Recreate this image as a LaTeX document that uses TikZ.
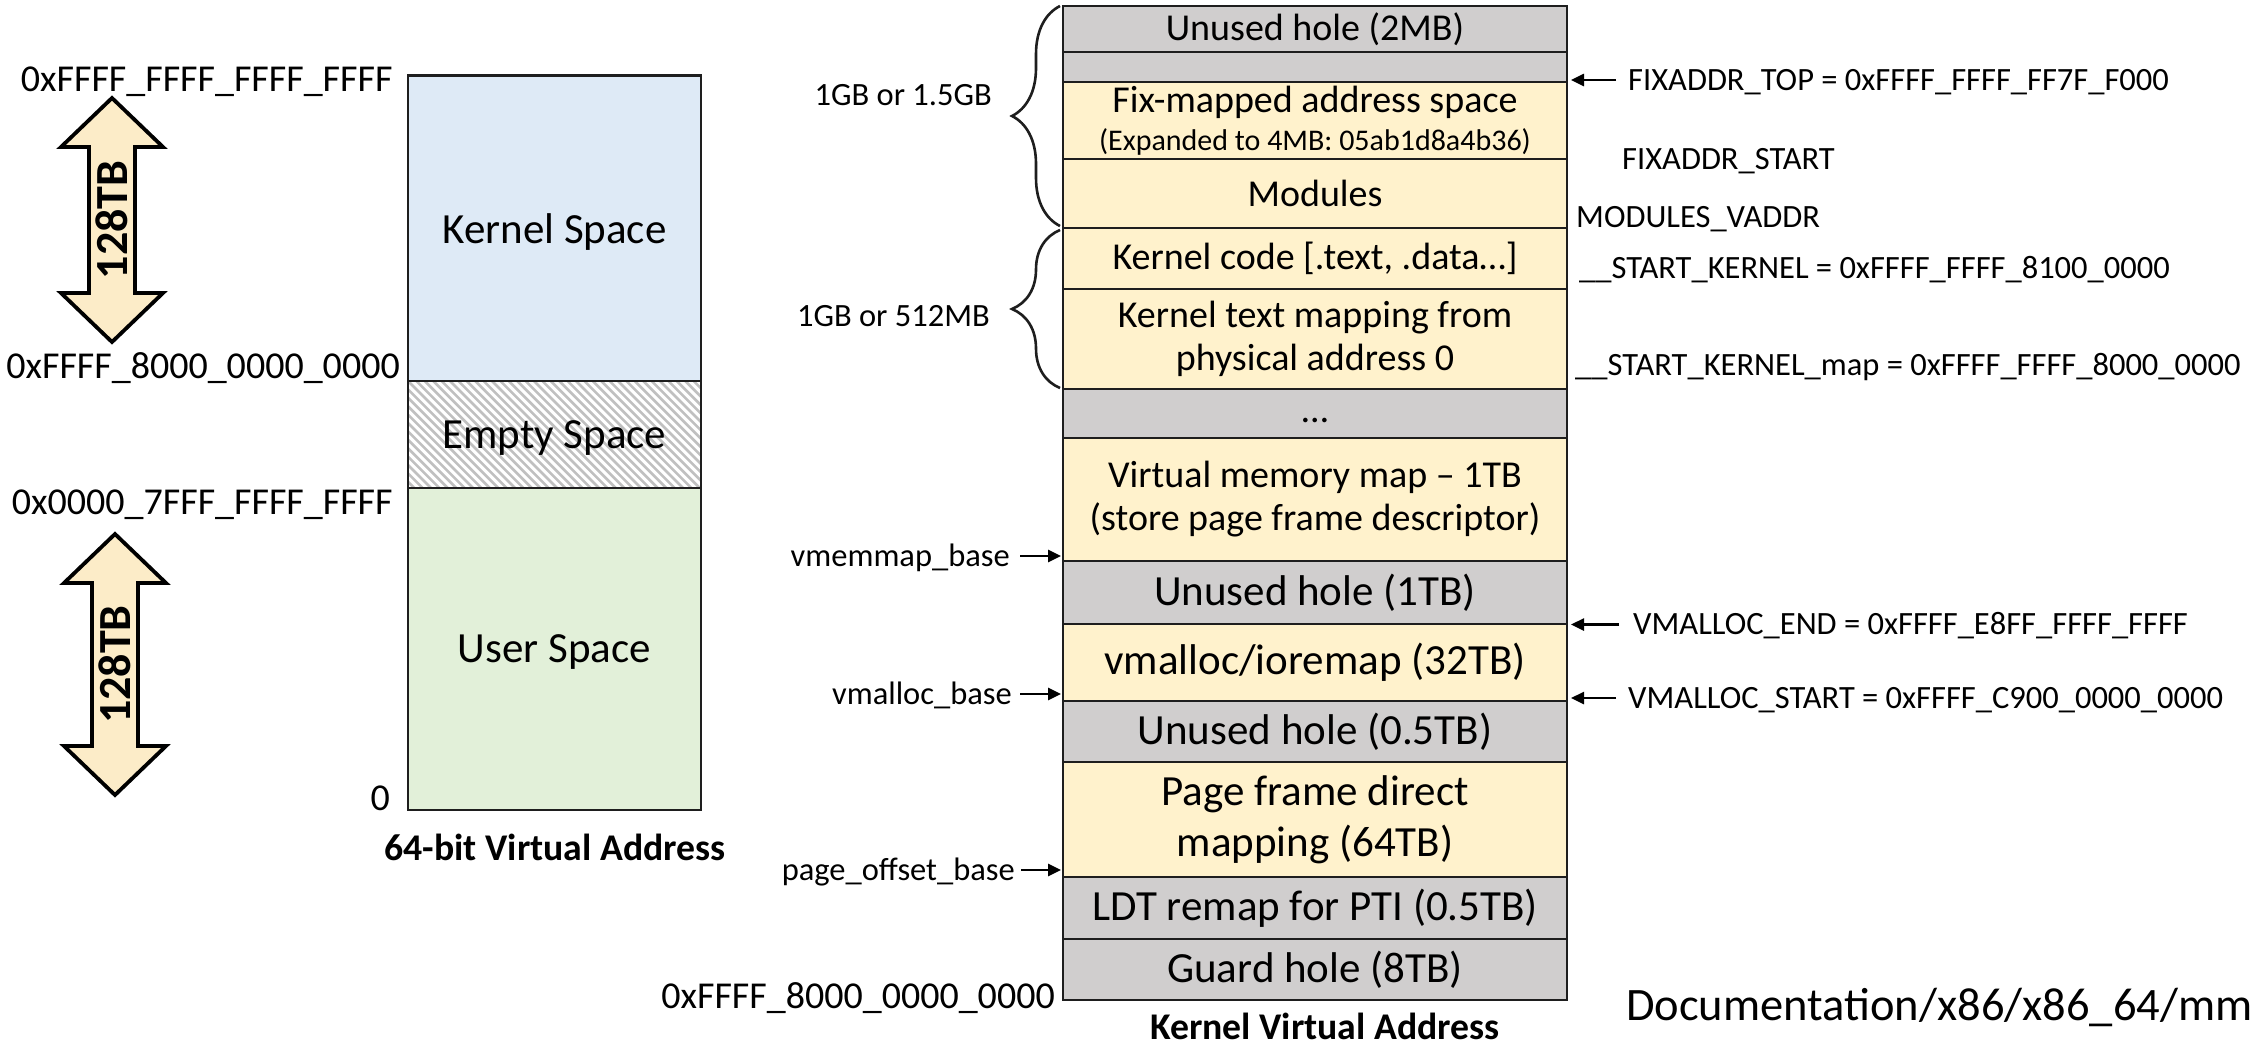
\documentclass[tikz,border=0pt]{standalone}
\usepackage{fontspec}
\setmainfont{Carlito}
\usetikzlibrary{arrows.meta,decorations.pathreplacing}

\definecolor{holegray}{RGB}{208,206,206}
\definecolor{mapyellow}{RGB}{255,242,204}
\definecolor{kernblue}{RGB}{222,234,246}
\definecolor{usergreen}{RGB}{226,240,217}
\definecolor{arrowtan}{RGB}{252,236,200}
\definecolor{edge}{RGB}{30,30,30}
\definecolor{hatchgray}{RGB}{192,192,192}

\begin{document}
\begin{tikzpicture}[x=1pt,y=-1pt,
  region/.style={draw=edge, line width=2.8pt, inner sep=0pt, align=center, text=black},
  rcol/.style={region, minimum width=504pt},
  lcol/.style={region, minimum width=293pt, text depth=0pt, font=\fontsize{43}{51}\selectfont},
  fbig/.style={font=\fontsize{43}{51}\selectfont},
  fmid/.style={font=\fontsize{38}{43}\selectfont},
  small/.style={inner sep=0pt, text height=20.6pt, text depth=0pt, font=\fontsize{32.5}{38}\selectfont},
  addr/.style={inner sep=0pt, text height=24.1pt, text depth=0pt, font=\fontsize{38}{44}\selectfont},
  caption/.style={inner sep=0pt, text height=24pt, text depth=0pt, font=\bfseries\fontsize{37.7}{44}\selectfont},
  arr/.style={draw=black, line width=2.6pt, -{Triangle[length=13pt,width=12pt]}},
  brc/.style={draw=edge, line width=2.6pt, decorate, decoration={brace, amplitude=48pt}},
  bigarrow/.style={draw=black, line width=3.8pt, fill=arrowtan, line join=miter},
  sizetag/.style={inner sep=0pt, rotate=90, font=\bfseries\fontsize{46}{50}\selectfont},
  hatchline/.style={draw=hatchgray, line width=2.6pt}
]
\path[use as bounding box, fill=white] (0,0) rectangle (2267,1045);

% ---------- 64-bit virtual address space ----------
\node[lcol, fill=kernblue, minimum height=305.5pt] (kspace) at (554.5,228.25) {Kernel Space};
\node[lcol, fill=white, minimum height=107pt,
  path picture={
    \foreach \k in {-14,...,36}
      \draw[hatchline] ([xshift={\k*8.4}]path picture bounding box.north west) -- ++(120,120);
  }] (espace) at (554.5,434.5) {Empty Space};
\node[lcol, fill=usergreen, minimum height=322pt] (uspace) at (554.5,649) {User Space};

\node[addr, anchor=east] (atop) at (393,79.5) {0xFFFF\_FFFF\_FFFF\_FFFF};
\node[addr, anchor=east] (akern) at (400,366) {0xFFFF\_8000\_0000\_0000};
\node[addr, anchor=east] (auser) at (393,502) {0x0000\_7FFF\_FFFF\_FFFF};
\node[addr, anchor=east] (azero) at (390,798) {0};
\node[caption] (lcap) at (555,848.5) {64-bit Virtual Address};

% double-headed size arrows
\draw[bigarrow] (112,98) -- (163,147) -- (135,147) -- (135,293) -- (163,293) -- (112,342)
  -- (61,293) -- (89,293) -- (89,147) -- (61,147) -- cycle;
\node[sizetag] (ksize) at (112,220) {128TB};
\draw[bigarrow] (115,534) -- (166,583) -- (138,583) -- (138,746) -- (166,746) -- (115,795)
  -- (64,746) -- (92,746) -- (92,583) -- (64,583) -- cycle;
\node[sizetag] (usize) at (115,664.5) {128TB};

% ---------- kernel virtual address layout ----------
\node[rcol, fmid, fill=holegray, minimum height=46pt] (hole2mb) at (1315,29) {Unused hole (2MB)};
\node[rcol, fill=holegray, minimum height=30pt] (fixgap) at (1315,67) {};
\node[rcol, fmid, fill=mapyellow, minimum height=77pt] (fixmap) at (1315,120.5)
  {Fix-mapped address space\\[-5pt]{\fontsize{30}{34}\selectfont (Expanded to 4MB: 05ab1d8a4b36)}};
\node[rcol, fmid, fill=mapyellow, minimum height=69pt] (modules) at (1315,193.5) {Modules};
\node[rcol, fmid, fill=mapyellow, minimum height=61pt] (kcode) at (1315,258.5) {Kernel code [.text, .data…]};
\node[rcol, fmid, fill=mapyellow, minimum height=100pt] (ktext) at (1315,339) {Kernel text mapping from\\physical address 0};
\node[rcol, fmid, fill=holegray, minimum height=49pt, text height=18pt, text depth=0pt] (dots) at (1315,413.5) {…};
\node[rcol, fmid, fill=mapyellow, minimum height=123pt] (vmemmap) at (1315,499.5) {Virtual memory map – 1TB\\(store page frame descriptor)};
\node[rcol, fbig, fill=holegray, minimum height=63pt] (hole1tb) at (1315,592.5) {Unused hole (1TB)};
\node[rcol, fbig, fill=mapyellow, minimum height=77pt] (vmalloc) at (1315,662.5) {vmalloc/ioremap (32TB)};
\node[rcol, fbig, fill=holegray, minimum height=61pt] (holehalf) at (1315,731.5) {Unused hole (0.5TB)};
\node[rcol, fbig, fill=mapyellow, minimum height=115pt] (direct) at (1315,819.5) {Page frame direct\\mapping (64TB)};
\node[rcol, fbig, fill=holegray, minimum height=62pt] (ldt) at (1315,908) {LDT remap for PTI (0.5TB)};
\node[rcol, fbig, fill=holegray, minimum height=61pt] (guard) at (1315,969.5) {Guard hole (8TB)};

\node[addr, anchor=east] (kbottom) at (1055,996.5) {0xFFFF\_8000\_0000\_0000};
\node[caption] (rcap) at (1325,1027.5) {Kernel Virtual Address};

% braces grouping the top of the layout
\coordinate (b1top) at (1060,6);
\coordinate (b1bot) at (1060,226);
\coordinate (b2top) at (1060,230);
\coordinate (b2bot) at (1060,388);
\draw[brc] (b1bot) -- (b1top);
\draw[brc] (b2bot) -- (b2top);
\node[small, anchor=east] (gb1) at (992,95) {1GB or 1.5GB};
\node[small, anchor=east] (gb2) at (990,316) {1GB or 512MB};

% base pointers on the left
\node[small, anchor=east] (vmb) at (1010,556) {vmemmap\_base};
\coordinate (vmbtip) at (1061,556);
\draw[arr] ([xshift=10pt]vmb.east) -- (vmbtip);
\node[small, anchor=east] (vab) at (1012,694) {vmalloc\_base};
\coordinate (vabtip) at (1061,694);
\draw[arr] ([xshift=8pt]vab.east) -- (vabtip);
\node[small, anchor=east] (pob) at (1015,870) {page\_offset\_base};
\coordinate (pobtip) at (1061,870);
\draw[arr] ([xshift=6pt]pob.east) -- (pobtip);

% symbolic addresses on the right
\node[small, anchor=west] (fixtop) at (1628,80) {FIXADDR\_TOP = 0xFFFF\_FFFF\_FF7F\_F000};
\coordinate (fixtoptip) at (1571,80);
\draw[arr] ([xshift=-12pt]fixtop.west) -- (fixtoptip);
\node[small, anchor=west] (fixstart) at (1622,159) {FIXADDR\_START};
\node[small, anchor=west] (modv) at (1576,217) {MODULES\_VADDR};
\node[small, anchor=west] (skern) at (1579,268) {\_\_START\_KERNEL = 0xFFFF\_FFFF\_8100\_0000};
\node[small, anchor=west] (skmap) at (1575,365) {\_\_START\_KERNEL\_map = 0xFFFF\_FFFF\_8000\_0000};
\node[small, anchor=west] (vend) at (1633,624.5) {VMALLOC\_END = 0xFFFF\_E8FF\_FFFF\_FFFF};
\coordinate (vendtip) at (1571,624.5);
\draw[arr] ([xshift=-14pt]vend.west) -- (vendtip);
\node[small, anchor=west] (vstart) at (1628,698) {VMALLOC\_START = 0xFFFF\_C900\_0000\_0000};
\coordinate (vstarttip) at (1571,698);
\draw[arr] ([xshift=-12pt]vstart.west) -- (vstarttip);

\node[inner sep=0pt, anchor=west, text height=29.4pt, text depth=0pt, font=\fontsize{46.5}{52}\selectfont]
  (docref) at (1626,1005.5) {Documentation/x86/x86\_64/mm};
\end{tikzpicture}
\end{document}
